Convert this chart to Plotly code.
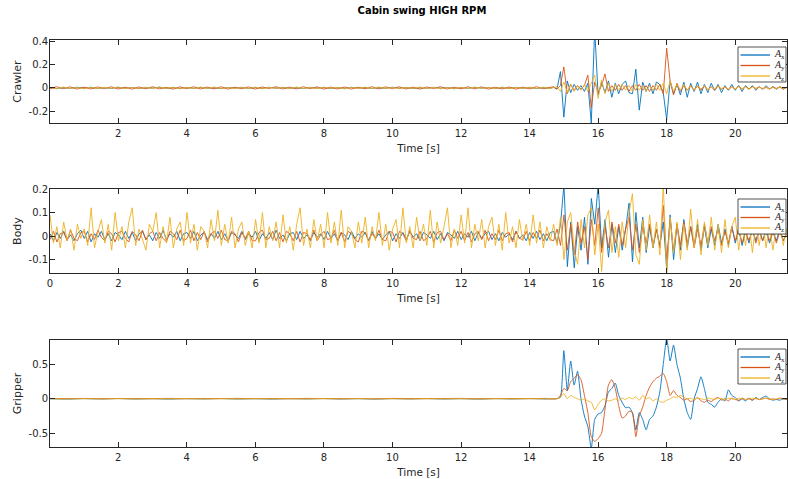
import numpy as np
import plotly.graph_objects as go

# ---------------- data ----------------
# Crawler: quiet part sampled every 0.2 s (0..14.6), active part every 0.1 s (14.7..21.5)
t_crawler = np.concatenate([np.arange(0, 147, 2) / 10, np.arange(147, 216) / 10])
crawler_x = [
    0.004,-0.006,0.003,-0.004,0.006,-0.003,0.005,-0.005,0.002,-0.004,
    0.005,-0.003,0.004,-0.006,0.003,-0.002,0.006,-0.004,0.003,-0.005,
    0.004,-0.004,0.005,-0.003,0.002,-0.006,0.004,-0.002,0.005,-0.004,
    0.003,-0.005,0.006,-0.003,0.004,-0.004,0.002,-0.005,0.005,-0.003,
    0.004,-0.006,0.003,-0.004,0.005,-0.002,0.004,-0.005,0.003,-0.004,
    0.006,-0.003,0.004,-0.005,0.002,-0.004,0.005,-0.003,0.004,-0.006,
    0.003,-0.004,0.005,-0.002,0.004,-0.005,0.003,-0.004,0.005,-0.003,
    0.004,-0.005,0.003,-0.004,
    0.005,-0.01,0.14,-0.25,0.06,-0.04,0.03,-0.02,0.02,-0.03,
    0.04,-0.3,0.5,-0.06,0.05,-0.04,0.06,-0.08,0.04,-0.05,
    0.03,0.06,-0.04,-0.05,0.16,-0.19,0.05,-0.03,0.04,-0.05,
    0.05,0.03,-0.04,-0.27,0.06,-0.05,0.03,-0.06,0.05,-0.08,
    0.04,-0.03,0.05,-0.05,0.03,-0.04,0.04,-0.02,0.03,-0.04,
    0.02,-0.02,0.03,-0.02,0.02,-0.03,0.02,-0.01,0.02,-0.02,
    0.01,-0.01,0.02,-0.01,0.01,-0.01,0.01,-0.01,0.005,
]
crawler_y = [
    -0.008,0.01,-0.006,0.009,-0.01,0.007,-0.009,0.008,-0.005,0.01,
    -0.009,0.006,-0.01,0.008,-0.007,0.01,-0.008,0.005,-0.01,0.009,
    -0.006,0.01,-0.009,0.007,-0.008,0.01,-0.01,0.006,-0.007,0.009,
    -0.01,0.008,-0.005,0.01,-0.009,0.007,-0.008,0.01,-0.006,0.009,
    -0.01,0.007,-0.009,0.008,-0.01,0.006,-0.007,0.01,-0.008,0.009,
    -0.006,0.01,-0.009,0.007,-0.01,0.008,-0.005,0.01,-0.009,0.006,
    -0.008,0.01,-0.007,0.009,-0.01,0.006,-0.009,0.008,-0.01,0.007,
    -0.008,0.01,-0.006,0.009,
    0.01,-0.01,0.02,0.18,-0.05,0.03,-0.02,0.02,-0.01,0.02,
    0.11,-0.17,0.05,-0.04,0.02,0.12,-0.03,0.02,-0.02,0.03,
    -0.02,0.02,-0.03,0.02,-0.02,0.03,-0.02,0.02,-0.03,0.02,
    -0.02,0.03,-0.05,0.34,0.06,-0.06,0.04,-0.03,0.02,-0.02,
    0.02,-0.02,0.015,-0.02,0.02,-0.015,0.01,-0.02,0.015,-0.01,
    0.01,-0.015,0.01,-0.01,0.015,-0.01,0.01,-0.01,0.01,-0.005,
    0.01,-0.01,0.005,-0.01,0.01,-0.005,0.01,-0.01,0.005,
]
crawler_z = [
    0.006,-0.007,0.008,-0.005,0.004,-0.008,0.007,-0.006,0.005,-0.004,
    0.008,-0.006,0.005,-0.007,0.006,-0.005,0.008,-0.004,0.007,-0.008,
    0.005,-0.006,0.007,-0.005,0.008,-0.007,0.004,-0.006,0.006,-0.005,
    0.007,-0.008,0.005,-0.004,0.006,-0.007,0.008,-0.005,0.004,-0.006,
    0.007,-0.005,0.006,-0.008,0.005,-0.004,0.007,-0.006,0.008,-0.005,
    0.004,-0.007,0.006,-0.005,0.008,-0.006,0.005,-0.007,0.004,-0.008,
    0.006,-0.005,0.007,-0.004,0.005,-0.006,0.008,-0.007,0.005,-0.004,
    0.006,-0.005,0.007,-0.006,
    0.005,0.01,-0.03,0.05,-0.04,0.03,-0.03,0.02,-0.02,0.03,
    -0.03,0.04,0.11,-0.09,0.07,-0.05,0.04,-0.03,0.03,-0.02,
    0.03,-0.02,0.02,-0.03,0.03,-0.02,0.02,-0.03,0.02,-0.02,
    0.03,-0.02,0.04,-0.05,0.06,-0.03,0.03,-0.02,0.03,-0.02,
    0.02,-0.02,0.02,-0.01,0.02,-0.02,0.01,-0.01,0.02,-0.01,
    0.01,-0.01,0.01,-0.01,0.01,-0.01,0.01,-0.01,0.01,-0.01,
    0.01,-0.01,0.01,-0.01,0.005,-0.01,0.01,-0.005,0.005,
]

# Body: sampled every 0.1 s (0..21.5)
t_body = np.arange(0, 216) / 10
body_x = [
    0.01,-0.02,0.015,-0.01,0.02,-0.015,0.005,-0.02,0.01,0.025,
    -0.01,0.02,-0.025,0.01,-0.005,0.02,-0.015,0.01,-0.02,0.015,
    0.005,-0.015,0.02,-0.01,0.015,-0.02,0.01,0.02,-0.015,0.005,
    -0.02,0.015,-0.01,0.025,-0.015,0.01,-0.005,0.02,-0.02,0.01,
    0.015,-0.01,0.02,-0.02,0.005,0.015,-0.015,0.01,-0.01,0.02,
    -0.015,0.01,-0.02,0.015,0.005,-0.01,0.02,-0.015,0.01,-0.005,
    0.02,-0.02,0.01,-0.01,0.015,-0.015,0.025,-0.01,0.005,-0.02,
    0.01,0.015,-0.015,0.02,-0.01,0.005,-0.02,0.015,-0.005,0.01,
    -0.015,0.02,-0.01,0.01,-0.02,0.015,0.005,-0.015,0.02,-0.01,
    0.01,-0.005,0.015,-0.02,0.02,-0.01,0.01,-0.015,0.005,0.02,
    -0.02,0.01,-0.01,0.015,-0.015,0.02,-0.005,0.01,-0.02,0.015,
    0.005,-0.01,0.02,-0.015,0.01,-0.02,0.015,0.005,-0.01,0.02,
    -0.015,0.01,-0.005,0.02,-0.02,0.015,-0.01,0.01,0.02,-0.015,
    0.01,-0.02,0.015,-0.005,0.01,-0.015,0.02,-0.01,0.005,-0.02,
    0.015,-0.01,0.02,-0.015,0.01,-0.02,0.015,
    0.02,-0.03,0.05,0.22,-0.13,0.06,-0.135,0.04,-0.06,0.08,
    -0.12,0.16,0.05,0.22,-0.05,0.07,-0.09,0.05,-0.07,0.04,
    -0.06,0.03,0.14,-0.11,0.1,-0.05,0.08,-0.07,0.04,-0.05,
    0.03,-0.04,0.06,-0.14,0.09,-0.1,0.05,-0.06,0.07,-0.05,
    0.04,-0.04,0.05,-0.06,0.04,-0.05,0.03,-0.04,0.05,-0.03,
    0.03,-0.04,0.04,-0.03,0.03,-0.04,0.02,-0.03,0.03,-0.02,
    0.03,-0.02,0.02,-0.03,0.02,-0.02,0.03,-0.02,0.01,
]
body_y = [
    -0.015,0.02,-0.025,0.01,0.015,-0.02,0.025,-0.01,-0.02,0.015,
    0.02,-0.025,0.01,-0.015,0.025,-0.005,-0.02,0.02,0.01,-0.025,
    0.015,0.02,-0.01,-0.025,0.02,0.005,-0.02,0.025,-0.015,0.01,
    0.02,-0.02,0.015,-0.01,-0.025,0.02,0.01,-0.015,0.025,-0.02,
    -0.01,0.025,-0.02,0.015,-0.015,0.02,-0.025,0.01,0.02,-0.01,
    0.025,-0.015,-0.02,0.02,0.01,-0.025,0.015,-0.01,0.02,-0.02,
    -0.02,0.015,0.025,-0.015,-0.01,0.02,-0.02,0.015,-0.025,0.02,
    0.01,-0.02,0.02,-0.025,0.015,0.01,-0.015,0.025,-0.02,0.005,
    0.02,-0.015,-0.01,0.025,-0.02,0.015,-0.025,0.02,0.01,-0.015,
    -0.025,0.02,0.015,-0.02,0.01,-0.01,0.025,-0.015,-0.02,0.02,
    0.015,-0.025,0.02,0.01,-0.02,0.025,-0.01,-0.015,0.02,-0.02,
    -0.01,0.02,-0.025,0.015,0.02,-0.015,0.01,-0.02,0.025,-0.01,
    0.02,-0.02,0.015,-0.025,0.01,0.02,-0.015,0.025,-0.02,0.01,
    -0.015,0.025,-0.02,0.01,0.015,-0.025,0.02,-0.01,-0.015,0.02,
    -0.02,0.015,-0.01,0.025,-0.02,0.01,-0.015,
    -0.02,0.03,-0.04,0.09,-0.06,0.05,-0.08,0.06,-0.03,0.04,
    -0.1,0.07,-0.04,0.12,-0.07,0.04,-0.05,0.06,-0.03,0.05,
    -0.04,0.03,0.08,-0.06,0.05,-0.07,0.04,-0.03,0.05,-0.04,
    0.03,-0.05,0.13,-0.1,0.07,-0.06,0.05,-0.04,0.06,-0.03,
    0.04,-0.05,0.03,-0.04,0.05,-0.03,0.04,-0.02,0.03,-0.04,
    0.02,-0.03,0.04,-0.02,0.03,-0.03,0.02,-0.02,0.03,-0.03,
    0.02,-0.02,0.03,-0.02,0.02,-0.03,0.02,-0.02,0.01,
]
body_z = [
    0.09,-0.03,0.04,-0.05,0.06,-0.02,0.03,-0.06,0.05,-0.01,
    0.03,-0.04,0.12,-0.05,0.02,0.07,-0.03,0.05,-0.06,0.1,
    -0.02,0.04,-0.05,0.06,0.12,-0.04,0.03,-0.02,-0.06,0.05,
    0.02,0.1,-0.05,0.04,-0.03,0.08,-0.05,0.03,0.06,-0.04,
    0.1,-0.03,0.05,-0.06,0.04,0.02,-0.05,0.07,-0.02,0.11,
    -0.04,0.05,-0.03,0.08,-0.05,0.03,0.06,-0.04,0.02,-0.05,
    0.07,-0.03,0.1,-0.05,0.04,-0.02,0.06,-0.05,0.09,-0.03,
    0.04,-0.06,0.05,0.12,-0.04,0.03,-0.05,0.07,-0.02,0.05,
    -0.05,0.1,-0.03,0.06,-0.04,0.11,-0.05,0.04,0.02,-0.05,
    0.06,-0.03,0.08,-0.05,0.04,-0.02,0.1,-0.04,0.05,-0.06,
    0.03,0.07,-0.05,0.12,-0.03,0.04,-0.05,0.08,-0.02,0.05,
    -0.04,0.11,-0.05,0.06,-0.03,0.04,0.12,-0.05,0.03,-0.04,
    0.09,-0.03,0.12,-0.05,0.05,-0.02,0.07,-0.05,0.04,0.08,
    -0.04,0.05,-0.06,0.1,-0.03,0.04,-0.05,0.07,-0.02,0.05,
    -0.04,0.09,-0.03,0.06,-0.05,0.04,-0.02,
    0.05,-0.04,0.08,-0.1,0.06,0.1,-0.06,-0.12,0.07,-0.05,
    0.09,0.12,-0.08,0.05,-0.15,0.06,0.11,-0.07,0.04,-0.09,
    0.06,-0.05,0.1,0.18,-0.08,-0.12,0.07,-0.06,0.09,-0.05,
    0.06,-0.08,0.22,-0.17,0.08,-0.07,0.06,-0.1,0.05,-0.06,
    0.115,-0.05,0.07,-0.08,0.06,-0.04,0.08,-0.06,0.05,-0.07,
    0.07,-0.05,0.04,0.08,-0.06,0.05,-0.04,0.06,-0.07,0.05,
    -0.04,0.07,-0.05,0.04,-0.06,0.05,0.08,-0.04,0.03,
]

# Gripper: quiet part every 0.5 s (0..14.5), active part every 0.1 s (14.6..21.5)
t_gripper = np.concatenate([np.arange(0, 146, 5) / 10, np.arange(146, 216) / 10])
gripper_x = [
    0.002,-0.004,0.003,-0.002,0.004,-0.003,0.002,-0.004,0.003,-0.002,
    0.004,-0.003,0.002,-0.004,0.003,-0.002,0.004,-0.003,0.002,-0.004,
    0.003,-0.002,0.004,-0.003,0.002,-0.004,0.003,-0.002,0.004,-0.003,
    0.0,0.0,0.005,0.02,0.7,0.12,0.55,0.2,0.4,0.0,
    -0.25,-0.4,-0.72,-0.3,-0.22,-0.2,-0.1,0.1,0.15,0.23,
    0.05,-0.05,-0.13,-0.12,-0.2,-0.45,-0.2,-0.3,-0.45,-0.3,
    -0.25,-0.12,0.1,0.5,0.88,0.55,0.78,0.5,0.3,0.0,
    -0.2,-0.3,0.0,0.15,0.32,0.15,-0.05,-0.08,-0.12,-0.05,
    0.0,-0.03,0.13,0.05,0.02,-0.03,0.0,-0.03,0.01,-0.02,
    0.02,-0.01,0.02,0.04,0.0,-0.02,-0.01,-0.02,0.0,-0.01,
]
gripper_y = [
    0.005,0.003,0.006,0.002,0.005,0.004,0.003,0.006,0.002,0.005,
    0.004,0.006,0.003,0.005,0.002,0.006,0.004,0.003,0.005,0.002,
    0.006,0.004,0.003,0.005,0.006,0.002,0.004,0.005,0.003,0.006,
    0.0,0.0,0.0,0.05,0.15,0.12,0.25,0.3,0.35,0.28,
    0.05,-0.2,-0.55,-0.62,-0.58,-0.5,-0.15,0.2,0.28,0.15,
    -0.1,-0.28,-0.25,-0.18,-0.2,-0.55,-0.25,-0.12,0.05,0.17,
    0.25,0.3,0.33,0.37,0.25,0.05,0.12,0.05,0.02,-0.02,
    0.0,-0.04,-0.02,0.02,-0.03,-0.05,-0.02,-0.04,0.0,0.02,
    -0.02,0.0,-0.03,0.01,-0.01,-0.02,0.01,-0.01,0.0,-0.02,
    0.01,-0.01,0.0,0.01,-0.01,0.0,-0.01,0.01,0.0,-0.01,
]
gripper_z = [
    0.001,-0.002,0.002,-0.001,0.002,-0.002,0.001,-0.001,0.002,-0.002,
    0.001,-0.002,0.002,-0.001,0.001,-0.002,0.002,-0.001,0.002,-0.001,
    0.001,-0.002,0.002,-0.001,0.001,-0.002,0.002,-0.001,0.002,-0.001,
    0.0,0.0,0.0,0.02,0.08,0.0,0.05,0.02,0.0,-0.02,
    0.0,-0.03,-0.05,-0.16,-0.08,-0.02,0.0,-0.03,-0.02,0.0,
    -0.02,0.01,-0.01,0.02,0.0,0.03,-0.02,0.05,0.0,0.02,
    -0.03,0.0,-0.04,-0.05,-0.02,0.0,0.03,0.02,0.05,0.02,
    0.0,0.01,-0.01,0.01,0.0,-0.01,0.01,0.0,-0.01,0.01,
    0.0,-0.01,0.01,0.0,-0.01,0.01,0.0,-0.01,0.0,0.01,
    0.0,-0.01,0.0,0.01,0.0,-0.01,0.0,0.01,0.0,0.0,
]

for t, series in [(t_crawler, [crawler_x, crawler_y, crawler_z]),
                  (t_body, [body_x, body_y, body_z]),
                  (t_gripper, [gripper_x, gripper_y, gripper_z])]:
    for s in series:
        assert len(s) == len(t), (len(s), len(t))

panel_names = ["Crawler", "Body", "Gripper"]
series_names = ["<i>A</i><sub>x</sub>", "<i>A</i><sub>y</sub>", "<i>A</i><sub>z</sub>"]
colors = ["#0072BD", "#D95319", "#EDB120"]
y_ranges = [[-0.3, 0.41], [-0.157, 0.2], [-0.7, 0.855]]
y_ticks = [[-0.2, 0, 0.2, 0.4], [-0.1, 0, 0.1, 0.2], [-0.5, 0, 0.5]]
x_ticks = [2, 4, 6, 8, 10, 12, 14, 16, 18, 20]
x_ranges = [[0.01, 21.51], [0, 21.51], [0.01, 21.51]]

# ---------------- figure ----------------
W, H = 788, 479
ML, MR = 50, 1
PW = W - ML - MR

def fy(py):
    return 1 - py / H

def fx(px):
    return (px - ML) / PW

domains = [(fy(123), fy(40)), (fy(273), fy(189)), (fy(447), fy(340))]
legend_tops = [47, 199, 349]

fig = go.Figure()
data = [(t_crawler, [crawler_x, crawler_y, crawler_z]),
        (t_body, [body_x, body_y, body_z]),
        (t_gripper, [gripper_x, gripper_y, gripper_z])]

font_family = "DejaVu Sans"
axis_color = "#262626"
shapes, annotations = [], []

for i, (t, series) in enumerate(data):
    sfx = "" if i == 0 else str(i + 1)
    for j, s in enumerate(series):
        fig.add_trace(go.Scatter(
            x=t, y=s, mode="lines", name=series_names[j],
            line=dict(color=colors[j], width=0.9,
                      shape="spline" if i == 2 else "linear",
                      smoothing=0.5 if i == 2 else None),
            xaxis="x" + sfx, yaxis="y" + sfx, showlegend=False,
        ))
    common = dict(showline=True, linecolor=axis_color, linewidth=0.8, mirror="ticks",
                  ticks="inside", ticklen=5, tickwidth=0.8, tickcolor=axis_color,
                  showgrid=False, zeroline=False,
                  tickfont=dict(family=font_family, size=10, color=axis_color))
    fig.layout["xaxis" + sfx] = dict(
        common, domain=[0, 1], anchor="y" + sfx, range=x_ranges[i],
        tickvals=x_ticks + ([0] if i == 1 else []), ticklabelstandoff=1,
        title=dict(text="Time [s]", standoff=6,
                   font=dict(family=font_family, size=10.5, color=axis_color)),
    )
    fig.layout["yaxis" + sfx] = dict(
        common, domain=list(domains[i]), anchor="x" + sfx, range=y_ranges[i],
        tickvals=y_ticks[i], ticklabelstandoff=-1,
        ticktext=[("%g" % v) for v in y_ticks[i]],
        title=dict(text=panel_names[i], standoff=4,
                   font=dict(family=font_family, size=11, color=axis_color)),
    )
    # legend box (drawn as a decoration, one per panel)
    top = legend_tops[i]
    shapes.append(dict(type="rect", xref="paper", yref="paper",
                       x0=fx(738), x1=fx(786), y0=fy(top + 35), y1=fy(top),
                       line=dict(color=axis_color, width=0.8), fillcolor="white",
                       layer="above"))
    for j in range(3):
        ly = top + 8 + j * 10.5
        shapes.append(dict(type="line", xref="paper", yref="paper",
                           x0=fx(740.5), x1=fx(770), y0=fy(ly), y1=fy(ly),
                           line=dict(color=colors[j], width=1.3), layer="above"))
        annotations.append(dict(text=series_names[j], xref="paper", yref="paper",
                                x=fx(771.5), y=fy(ly), xanchor="left", yanchor="middle",
                                showarrow=False,
                                font=dict(family="Liberation Serif", size=10,
                                          color="#262626")))

fig.update_layout(
    width=W, height=H,
    margin=dict(l=ML, r=MR, t=0, b=0, autoexpand=False),
    paper_bgcolor="white", plot_bgcolor="white",
    title=dict(text="<b>Cabin swing HIGH RPM</b>", x=422 / W, xanchor="center",
               y=1 - 10 / H, yanchor="middle", yref="container", xref="container",
               font=dict(family=font_family, size=10, color="#000000")),
    showlegend=False,
    shapes=shapes, annotations=annotations,
)

fig.write_html("out.html", config={"displayModeBar": False},
               post_script="document.body.style.margin='0px';")
